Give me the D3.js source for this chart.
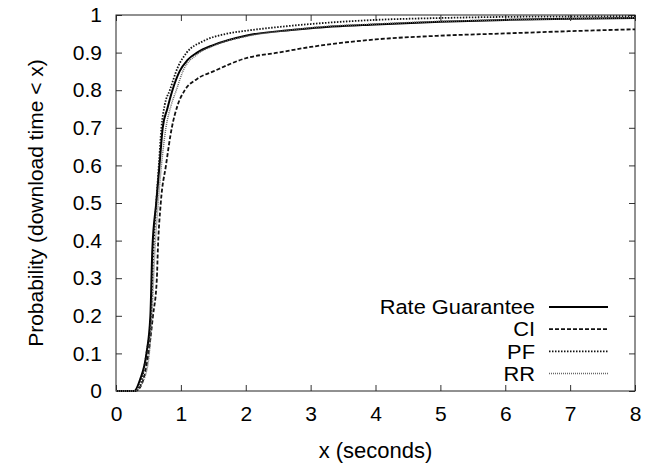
<!DOCTYPE html>
<html>
<head>
<meta charset="utf-8">
<script src="https://cdn.jsdelivr.net/npm/d3@7"></script>
<style>
  body { margin: 0; background: #fff; }
  svg text { font-family: "Liberation Sans", Arial, sans-serif; }
</style>
</head>
<body>
<svg id="chart" width="645" height="466"></svg>
<script>
// CDF curves, [x seconds, probability]
const rateGuarantee = [[0,0],[0.28,0],[0.37,0.03],[0.47,0.1],[0.53,0.2],[0.56,0.375],[0.62,0.5],[0.67,0.6],[0.72,0.7],[0.79,0.75],[0.87,0.8],[0.98,0.85],[1.1,0.88],[1.25,0.9],[1.5,0.92],[2,0.945],[2.7,0.96],[3,0.965],[4,0.975],[5,0.982],[6,0.987],[7,0.99],[8,0.992]];
const ci = [[0,0],[0.3,0],[0.4,0.02],[0.5,0.1],[0.57,0.2],[0.63,0.3],[0.645,0.375],[0.69,0.5],[0.77,0.6],[0.86,0.7],[0.95,0.76],[1.06,0.8],[1.25,0.83],[1.5,0.85],[2,0.885],[2.5,0.9],[3,0.915],[4,0.935],[5,0.945],[6,0.951],[7,0.957],[8,0.962]];
const pf = [[0,0],[0.3,0],[0.38,0.02],[0.47,0.1],[0.54,0.2],[0.57,0.35],[0.62,0.5],[0.66,0.6],[0.7,0.7],[0.75,0.76],[0.83,0.8],[0.95,0.86],[1.09,0.9],[1.34,0.93],[1.7,0.95],[2,0.958],[2.5,0.968],[3,0.976],[4,0.987],[5,0.992],[6,0.995],[7,0.996],[8,0.997]];
const rr = [[0,0],[0.3,0],[0.4,0.02],[0.5,0.08],[0.55,0.19],[0.6,0.375],[0.65,0.5],[0.7,0.6],[0.77,0.7],[0.85,0.76],[0.93,0.8],[1.03,0.85],[1.25,0.895],[1.5,0.918],[2,0.943],[2.7,0.96],[3,0.966],[4,0.976],[5,0.983],[6,0.987],[7,0.99],[8,0.993]];

const xTicks = [0,1,2,3,4,5,6,7,8];
const yTicks = [0,0.1,0.2,0.3,0.4,0.5,0.6,0.7,0.8,0.9,1];

const series = [
  {name: "Rate Guarantee", data: rateGuarantee, color: "#000", width: 2, dash: null},
  {name: "CI", data: ci, color: "#111", width: 1.8, dash: "4,2"},
  {name: "PF", data: pf, color: "#111", width: 1.8, dash: "1.5,1.5"},
  {name: "RR", data: rr, color: "#666", width: 1.5, dash: "1,1"}
];

var fs = "21px", fsLabel = "22px";
var margin = {top: 15, right: 10, bottom: 75, left: 116},
    width = 645 - margin.left - margin.right,
    height = 466 - margin.top - margin.bottom;

var svg = d3.select("#chart")
  .append("g")
    .attr("transform", "translate(" + margin.left + "," + margin.top + ")");

var x = d3.scaleLinear().domain([0, 8]).range([0, width]);
var y = d3.scaleLinear().domain([0, 1]).range([height, 0]);

// gnuplot style: inward ticks on all four sides
var tl = 6;
svg.append("g")
  .attr("transform", "translate(0," + height + ")")
  .call(d3.axisBottom(x).tickValues(xTicks).tickSize(-tl).tickPadding(15).tickFormat(d3.format("d")))
  .call(g => g.select(".domain").remove())
  .call(g => g.selectAll("text").style("font-size", fs).attr("fill", "#000"));
svg.append("g")
  .call(d3.axisTop(x).tickValues(xTicks).tickSize(-tl).tickFormat(""))
  .call(g => g.select(".domain").remove());
svg.append("g")
  .call(d3.axisLeft(y).tickValues(yTicks).tickSize(-tl).tickPadding(14).tickFormat(d => d === 0 || d === 1 ? d3.format("d")(d) : d3.format(".1f")(d)))
  .call(g => g.select(".domain").remove())
  .call(g => g.selectAll("text").style("font-size", fs).attr("fill", "#000"));
svg.append("g")
  .attr("transform", "translate(" + width + ",0)")
  .call(d3.axisRight(y).tickValues(yTicks).tickSize(-tl).tickFormat(""))
  .call(g => g.select(".domain").remove());
svg.selectAll(".tick line").attr("stroke", "#333");

svg.append("rect")
  .attr("x", 0).attr("y", 0)
  .attr("width", width).attr("height", height)
  .attr("fill", "none").attr("stroke", "#222").attr("stroke-width", 1);

var line = d3.line()
  .x(d => x(d[0]))
  .y(d => y(d[1]))
  .curve(d3.curveMonotoneX);

series.forEach(s => {
  svg.append("path")
    .datum(s.data)
    .attr("d", line)
    .attr("fill", "none")
    .attr("stroke", s.color)
    .attr("stroke-width", s.width)
    .attr("stroke-dasharray", s.dash);
});

// legend (rows sit tight, so a slightly smaller font stretched sideways)
var legend = svg.append("g").attr("transform", "translate(" + (535 - margin.left) + "," + (307 - margin.top) + ")");
series.forEach((s, i) => {
  var row = legend.append("g").attr("transform", "translate(0," + (i * 22.2) + ")");
  row.append("text")
    .attr("x", 0).attr("y", 0).attr("dy", "0.37em")
    .attr("text-anchor", "end")
    .attr("transform", "scale(1.12,1)")
    .style("font-size", "19.5px")
    .text(s.name);
  row.append("line")
    .attr("x1", 14).attr("x2", 73)
    .attr("y1", 0).attr("y2", 0)
    .attr("stroke", s.color)
    .attr("stroke-width", s.width)
    .attr("stroke-dasharray", s.dash);
});

svg.append("text")
  .attr("x", width / 2).attr("y", height + 67)
  .attr("text-anchor", "middle")
  .style("font-size", fsLabel)
  .text("x (seconds)");

svg.append("text")
  .attr("transform", "translate(" + (43 - margin.left) + "," + (height / 2) + ") rotate(-90)")
  .attr("text-anchor", "middle")
  .style("font-size", fs)
  .text("Probability (download time < x)");
</script>
</body>
</html>
